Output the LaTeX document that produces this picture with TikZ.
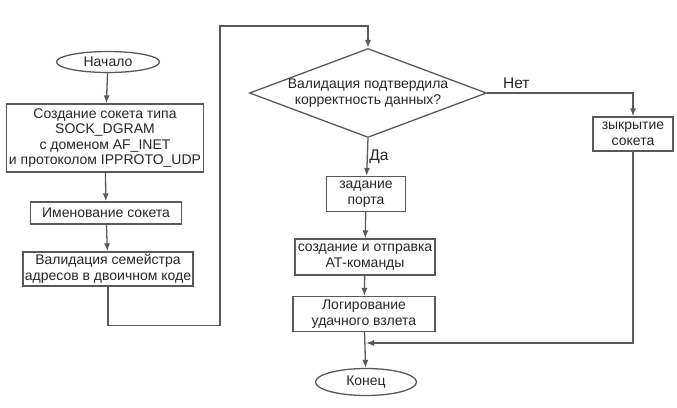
\documentclass[tikz,border=0pt]{standalone}
\usepackage{fontspec}
\setmainfont{Liberation Sans}
\usetikzlibrary{arrows.meta, shapes.geometric, positioning, calc}
\tikzset{
    >={Latex[length=8pt, width=6pt]},
    every node/.style={font=\fontsize{14}{15.6}\selectfont, text=black!85},
    block/.style={draw=black!65, line width=1.3pt, align=center, inner sep=0pt},
    term/.style={ellipse, draw=black!65, line width=1.3pt, inner sep=0pt},
    decision/.style={diamond, draw=black!65, line width=1.3pt, align=center, inner sep=0pt, aspect=2.66},
    flow/.style={->, draw=black!65, line width=1.3pt},
    answer/.style={font=\fontsize{15.5}{17}\selectfont},
}
\begin{document}
\begin{tikzpicture}[x=1pt, y=-1pt]
    \useasboundingbox (0,0) rectangle (677,407);
    % left column
    \node[term, minimum width=103, minimum height=21] (start) at (108,62) {Начало};
    \node[block, minimum width=197, minimum height=68] (socket) at (105,138)
        {Создание сокета типа\\SOCK\_DGRAM\\с доменом AF\_INET\\и протоколом IPPROTO\_UDP};
    \node[block, minimum width=151, minimum height=22] (name) at (106,213) {Именование сокета};
    \node[block, minimum width=170, minimum height=34] (valid) at (108,269)
        {Валидация семейстра\\адресов в двоичном коде};
    % middle column
    \node[decision, minimum width=237, minimum height=89] (dec) at (368,93)
        {Валидация подтвердила\\корректность данных?};
    \node[block, minimum width=79, minimum height=35] (port) at (366,194) {задание\\порта};
    \node[block, minimum width=140, minimum height=36] (send) at (365,257)
        {создание и отправка\\АТ-команды};
    \node[block, minimum width=142, minimum height=35] (log) at (364,314)
        {Логирование\\удачного взлета};
    \node[term, minimum width=101, minimum height=27] (end) at (366,382) {Конец};
    % right column
    \node[block, minimum width=80, minimum height=34] (close) at (633,134) {зыкрытие\\сокета};
    \coordinate (join) at (366,343);
    % connectors
    \draw[flow] (start) -- (socket);
    \draw[flow] (socket) -- (name);
    \draw[flow] (name) -- (valid);
    \draw[flow] (valid.south) -- ++(0,39) -| (220,26) -| (dec.north);
    \draw[flow] (dec.east) -| node[answer, pos=0.1, above] {Нет} (close.north);
    \draw[flow] (dec.south) -- node[answer, right=-2pt] {Да} (port);
    \draw[flow] (port) -- (send);
    \draw[flow] (send) -- (log);
    \draw[flow] (log) -- (end);
    \draw[flow] (close.south) |- (join);
\end{tikzpicture}
\end{document}
